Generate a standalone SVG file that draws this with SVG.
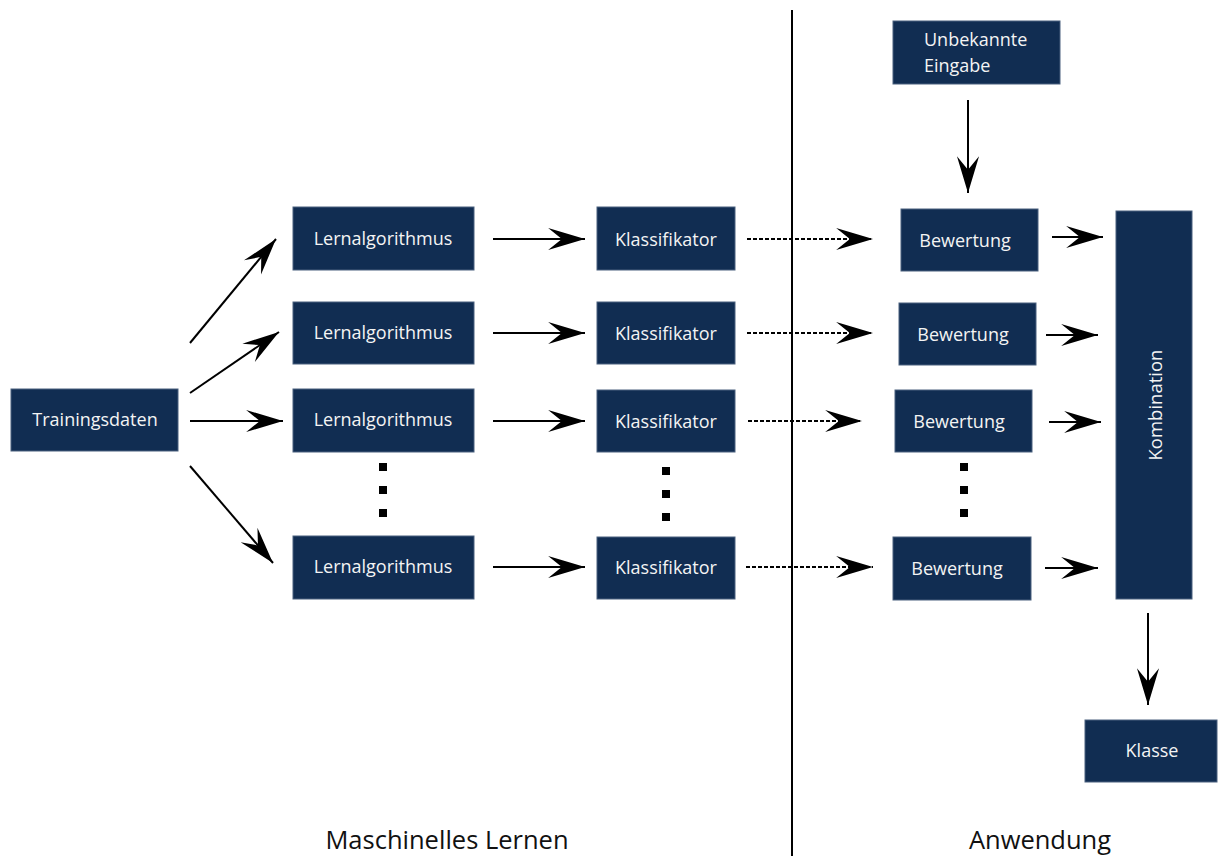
<svg xmlns="http://www.w3.org/2000/svg" width="1218" height="856" viewBox="0 0 1218 856">
<style>
.box{fill:#112d52;stroke:#4a607e;stroke-width:1}
.t{font-family:"Open Sans","Noto Sans",sans-serif;font-size:18px;fill:#f4f4f4;text-anchor:middle;dominant-baseline:central}
.tl{font-family:"Open Sans","Noto Sans",sans-serif;font-size:18px;fill:#f4f4f4;dominant-baseline:central}
.lab{font-family:"Open Sans","Noto Sans",sans-serif;font-size:25.5px;fill:#111111;text-anchor:middle}
.c{stroke:#000;stroke-width:2;fill:none;marker-end:url(#ah)}
.d{stroke:#000;stroke-width:2;fill:none;stroke-dasharray:4 2;marker-end:url(#ah)}
.dot{fill:#000}
</style>
<defs>
<marker id="ah" markerUnits="userSpaceOnUse" markerWidth="40" markerHeight="30" viewBox="-36 -12 38 24" refX="0" refY="0" orient="auto">
<path d="M0,0 L-35,-10.5 L-22,0 L-35,10.5 Z" fill="#000"/>
</marker>
</defs>
<g id="connectors">
<line x1="792" y1="10" x2="792" y2="856" stroke="#000" stroke-width="2"/>
<line class="c" x1="190" y1="343" x2="276" y2="239"/>
<line class="c" x1="190" y1="393" x2="279" y2="332"/>
<line class="c" x1="190" y1="421" x2="283" y2="421"/>
<line class="c" x1="190" y1="466" x2="273" y2="563"/>
<line class="c" x1="493" y1="239" x2="585" y2="239"/>
<line class="c" x1="493" y1="333" x2="585" y2="333"/>
<line class="c" x1="493" y1="421" x2="585" y2="421"/>
<line class="c" x1="493" y1="567" x2="585" y2="567"/>
<line class="d" x1="747" y1="239" x2="873" y2="239"/>
<line class="d" x1="747" y1="333" x2="873" y2="333"/>
<line class="d" x1="748" y1="421" x2="862" y2="421"/>
<line class="d" x1="746" y1="567" x2="873" y2="567"/>
<line class="c" x1="968" y1="100" x2="968" y2="193"/>
<line class="c" x1="1052" y1="237" x2="1103" y2="237"/>
<line class="c" x1="1046" y1="335" x2="1098" y2="335"/>
<line class="c" x1="1049" y1="422" x2="1101" y2="422"/>
<line class="c" x1="1045" y1="568" x2="1098" y2="568"/>
<line class="c" x1="1148" y1="613" x2="1148" y2="705"/>
</g>
<g id="trainingsdaten"><rect class="box" x="11" y="389" width="167" height="62"/><text class="t" x="95" y="419">Trainingsdaten</text></g>
<g id="lern1"><rect class="box" x="293" y="207" width="181" height="63"/><text class="t" x="383" y="238">Lernalgorithmus</text></g>
<g id="lern2"><rect class="box" x="293" y="302" width="181" height="62"/><text class="t" x="383" y="332">Lernalgorithmus</text></g>
<g id="lern3"><rect class="box" x="293" y="389" width="181" height="63"/><text class="t" x="383" y="419">Lernalgorithmus</text></g>
<g id="lern4"><rect class="box" x="293" y="536" width="181" height="63"/><text class="t" x="383" y="566">Lernalgorithmus</text></g>
<g id="dots1"><rect class="dot" x="379" y="463" width="8" height="8"/><rect class="dot" x="379" y="486" width="8" height="8"/><rect class="dot" x="379" y="509" width="8" height="8"/></g>
<g id="klass1"><rect class="box" x="597" y="207" width="138" height="63"/><text class="t" x="666" y="239">Klassifikator</text></g>
<g id="klass2"><rect class="box" x="597" y="302" width="138" height="62"/><text class="t" x="666" y="333">Klassifikator</text></g>
<g id="klass3"><rect class="box" x="597" y="390" width="138" height="62"/><text class="t" x="666" y="421">Klassifikator</text></g>
<g id="klass4"><rect class="box" x="597" y="537" width="138" height="62"/><text class="t" x="666" y="567">Klassifikator</text></g>
<g id="dots2"><rect class="dot" x="662" y="467" width="8" height="8"/><rect class="dot" x="662" y="490" width="8" height="8"/><rect class="dot" x="662" y="513" width="8" height="8"/></g>
<g id="unbekannt"><rect class="box" x="893" y="21" width="167" height="63"/><text class="tl" x="924" y="39">Unbekannte</text><text class="tl" x="924" y="65">Eingabe</text></g>
<g id="bew1"><rect class="box" x="901" y="209" width="137" height="62"/><text class="t" x="965" y="240">Bewertung</text></g>
<g id="bew2"><rect class="box" x="899" y="303" width="137" height="62"/><text class="t" x="963" y="334">Bewertung</text></g>
<g id="bew3"><rect class="box" x="895" y="390" width="137" height="62"/><text class="t" x="959" y="421">Bewertung</text></g>
<g id="bew4"><rect class="box" x="893" y="537" width="138" height="63"/><text class="t" x="957" y="568">Bewertung</text></g>
<g id="dots3"><rect class="dot" x="960" y="463" width="8" height="8"/><rect class="dot" x="960" y="486" width="8" height="8"/><rect class="dot" x="960" y="509" width="8" height="8"/></g>
<g id="kombination"><rect class="box" x="1116" y="211" width="76" height="388"/><text class="t" x="1154" y="405" transform="rotate(-90 1154 405)" style="font-size:18.5px">Kombination</text></g>
<g id="klasse"><rect class="box" x="1085" y="720" width="132" height="62"/><text class="t" x="1152" y="750">Klasse</text></g>
<text class="lab" x="447" y="849">Maschinelles Lernen</text>
<text class="lab" x="1040" y="849">Anwendung</text>
</svg>
